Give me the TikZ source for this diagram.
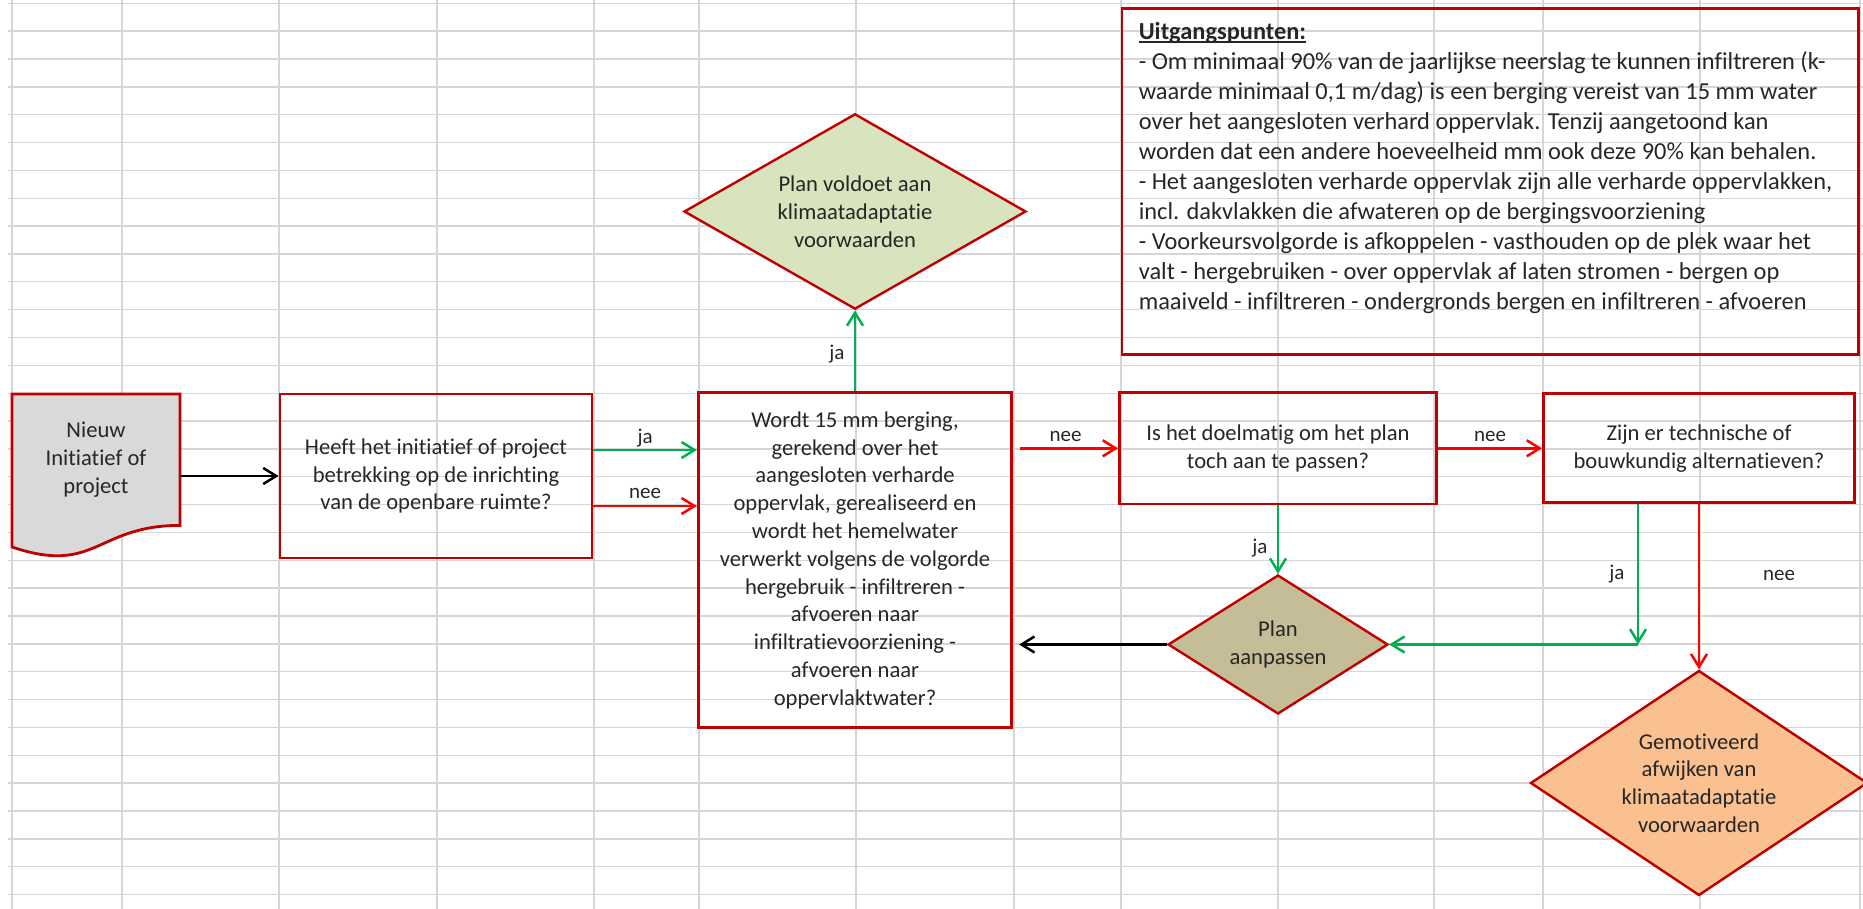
\documentclass[tikz,border=0pt]{standalone}
\usepackage{fontspec}
\setmainfont{Carlito}[Ligatures=NoCommon]
\usepackage{tikz}
\usetikzlibrary{arrows.meta,shapes.geometric}
\usetikzlibrary{positioning}

\definecolor{kaderrood}{HTML}{C00000}
\definecolor{pijlrood}{HTML}{FF0000}
\definecolor{pijlgroen}{HTML}{00B050}
\definecolor{rooster}{HTML}{D6D6D6}
\definecolor{vulgrijs}{HTML}{D9D9D9}
\definecolor{vulgroen}{HTML}{D7E4BD}
\definecolor{vulbruin}{HTML}{C4BD97}
\definecolor{vuloranje}{HTML}{FAC090}

% underlined heading with the rule close to the baseline
\newsavebox{\kopbox}
\newcommand{\kopregel}[1]{\leavevmode\sbox{\kopbox}{\textbf{#1}}%
  \rlap{\rule[-1.6pt]{\wd\kopbox}{0.8pt}}\usebox{\kopbox}}

\tikzset{
    stap/.style={
           rectangle,
           draw=kaderrood, line width=1.4pt,
           inner sep=2pt,
           align=center,
           text=black!85,
           font=\fontsize{11.3}{13.9}\selectfont,
           },
    keuze/.style={
           diamond,
           draw=kaderrood, line width=1.2pt,
           inner sep=0pt,
           align=center,
           text=black!85,
           font=\fontsize{11.3}{13.9}\selectfont,
           },
    docnode/.style={
           rectangle,
           inner sep=0pt,
           minimum width=84pt, minimum height=65.5pt,
           align=center,
           text=black!85,
           font=\fontsize{11.3}{13.9}\selectfont,
           },
    jaPijl/.style={->, draw=pijlgroen, line width=1.25pt},
    neePijl/.style={->, draw=pijlrood, line width=1.25pt},
    zwartPijl/.style={->, draw=black, line width=1.25pt},
    pijltekst/.style={text=black!85, font=\fontsize{10.5}{12}\selectfont},
}

\begin{document}
\begin{tikzpicture}[>={Straight Barb[length=6.5pt,width=8pt]}, x=0.5pt, y=-0.5pt]

 \useasboundingbox (0,0) rectangle (1863,909);

 % spreadsheet grid behind everything
 \foreach \x in {12,122,279,437,594,699,856,1014,1121,1278,1434,1543,1700,1860}
   \draw[rooster, line width=0.7pt] (\x,0) -- (\x,909);
 \foreach \k in {0,...,32}
   \draw[rooster, line width=0.7pt] (8,{3.3+27.85*\k}) -- (1863,{3.3+27.85*\k});

 % document shape of the start node (drawn first, text goes on top)
 \draw[fill=vulgrijs, draw=kaderrood, line width=1.4pt]
   (12,547) .. controls (96,575.5) and (96,525.4) .. (180,525.4)
   -- (180,394) -- (12,394) -- cycle;

 % First node: question about the public space
 \node[stap, minimum width=156pt, minimum height=82pt] (heeft) at (436,476)
 {Heeft het initiatief of project\\betrekking op de inrichting\\van de openbare ruimte?};

 % start node left of it
 \node[docnode,
 left of=heeft,
 node distance=170pt,
 yshift=8.25pt] (nieuw)
 {Nieuw\\Initiatief of\\project};

 % Next node: the main check
 \node[stap,
 minimum width=156.7pt, minimum height=167.5pt,
 right of=heeft,
 node distance=209.5pt,
 yshift=-42.1pt] (wordt)
 {Wordt 15 mm berging,\\gerekend over het\\aangesloten verharde\\oppervlak, gerealiseerd en\\wordt het hemelwater\\verwerkt volgens de volgorde\\hergebruik - infiltreren -\\afvoeren naar\\infiltratievoorziening -\\afvoeren naar\\oppervlaktwater?};

 % plan is fine
 \node[keuze, fill=vulgroen, aspect=1.75,
 minimum width=171pt, minimum height=97.7pt,
 above of=wordt,
 node distance=174.35pt] (voldoet)
 {Plan voldoet aan\\klimaatadaptatie\\voorwaarden};

 % adjust the plan?
 \node[stap,
 minimum width=158.5pt, minimum height=55.7pt,
 right of=wordt,
 node distance=211.5pt,
 yshift=55.95pt] (doelmatig)
 {Is het doelmatig om het plan\\toch aan te passen?};

 % alternatives?
 \node[stap,
 minimum width=155.5pt, minimum height=54.5pt,
 right of=doelmatig,
 node distance=210.5pt] (technisch)
 {Zijn er technische of\\bouwkundig alternatieven?};

 \node[keuze, fill=vulbruin, aspect=1.58,
 minimum width=110pt, minimum height=69.5pt,
 below of=doelmatig,
 node distance=98.1pt] (aanpassen)
 {Plan\\aanpassen};

 \node[keuze, fill=vuloranje, aspect=1.5,
 minimum width=168.5pt, minimum height=112.5pt,
 below of=technisch,
 node distance=167.35pt] (gemotiveerd)
 {Gemotiveerd\\afwijken van\\klimaatadaptatie\\voorwaarden};

 % text box with the starting points
 \node[stap, anchor=north west, inner xsep=8.4pt, inner ysep=7pt,
 align=left, font=\fontsize{12.2}{15}\selectfont] (uitgang) at (1120.6,7.3)
 {\parbox[c][158.7pt][t]{351.4pt}{\raggedright
  \kopregel{Uitgangspunten:}\\
  - Om minimaal 90\% van de jaarlijkse neerslag te kunnen infiltreren (k-\\
  waarde minimaal 0,1 m/dag) is een berging vereist van 15 mm water\\
  over het aangesloten verhard oppervlak. Tenzij aangetoond kan\\
  worden dat een andere hoeveelheid mm ook deze 90\% kan behalen.\\
  - Het aangesloten verharde oppervlak zijn alle verharde oppervlakken,\\
  incl. dakvlakken die afwateren op de bergingsvoorziening\\
  - Voorkeursvolgorde is afkoppelen - vasthouden op de plek waar het\\
  valt - hergebruiken - over oppervlak af laten stromen - bergen op\\
  maaiveld - infiltreren - ondergronds bergen en infiltreren - afvoeren}};

 % corner where the green line turns left
 \coordinate (hoek) at (1638,644.5);

 % draw the paths and the ja/nee labels
 \path (nieuw.east |- heeft.west) edge[zwartPijl] (heeft.west)
 ([yshift=13pt]heeft.east) edge[jaPijl] node[pijltekst, yshift=6pt] {ja}
                  ([yshift=13pt]heeft.east -| wordt.west)
 ([yshift=-15pt]heeft.east) edge[neePijl] node[pijltekst, yshift=6.5pt] {nee}
                  ([yshift=-15pt]heeft.east -| wordt.west)
 (wordt.north) edge[jaPijl] node[pijltekst, xshift=-9pt, yshift=-1.5pt] {ja}
                  (voldoet.south)
 (wordt.east |- doelmatig.west) edge[neePijl, shorten <=3.5pt]
                  node[pijltekst, yshift=6pt] {nee} (doelmatig.west)
 (doelmatig.east) edge[neePijl] node[pijltekst, yshift=6pt] {nee} (technisch.west)
 (doelmatig.south) edge[jaPijl] node[pijltekst, xshift=-9pt, yshift=-4pt] {ja}
                  (aanpassen.north)
 (aanpassen.west) edge[zwartPijl, shorten >=3pt] (aanpassen.west -| wordt.east)
 (hoek |- technisch.south) edge[jaPijl] node[pijltekst, xshift=-10.5pt] {ja} (hoek)
 (hoek) edge[jaPijl] (aanpassen.east)
 (technisch.south) edge[neePijl] node[pijltekst, xshift=40pt, yshift=5.5pt] {nee}
                  (gemotiveerd.north)
 ;
\end{tikzpicture}
\end{document}
